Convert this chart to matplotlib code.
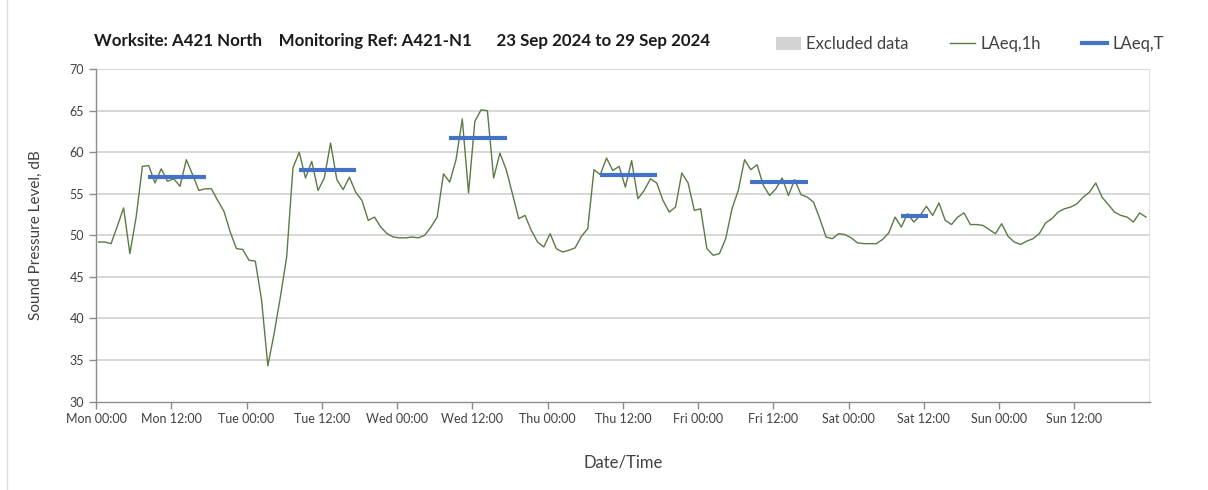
import matplotlib
matplotlib.use("Agg")
import matplotlib.pyplot as plt
from matplotlib.lines import Line2D
from matplotlib.patches import Patch
import numpy as np

# ---- data ----
laeq_1h = [
    49.2, 49.2, 49.0, 51.1, 53.3, 47.8, 52.2, 58.3, 58.4, 56.3, 58.0, 56.5,
    56.8, 55.9, 59.1, 57.3, 55.4, 55.6, 55.6, 54.2, 52.9, 50.4, 48.4, 48.3,
    47.0, 46.9, 42.2, 34.3, 38.2, 42.6, 47.4, 58.1, 60.0, 56.9, 58.9, 55.4,
    56.9, 61.1, 56.7, 55.5, 57.0, 55.2, 54.2, 51.8, 52.2, 51.0, 50.2, 49.8,
    49.7, 49.7, 49.8, 49.7, 50.0, 51.0, 52.2, 57.4, 56.4, 59.1, 64.0, 55.1,
    63.7, 65.1, 65.0, 56.9, 59.9, 57.9, 55.0, 52.0, 52.4, 50.6, 49.2, 48.6,
    50.2, 48.4, 48.0, 48.2, 48.5, 49.9, 50.8, 57.9, 57.3, 59.3, 57.8, 58.3,
    55.8, 59.0, 54.4, 55.4, 56.8, 56.3, 54.2, 52.8, 53.4, 57.5, 56.3, 53.0,
    53.2, 48.4, 47.6, 47.8, 49.6, 53.2, 55.4, 59.1, 57.9, 58.5, 56.0, 54.8,
    55.6, 56.9, 54.8, 56.7, 54.9, 54.6, 54.0, 52.0, 49.8, 49.6, 50.2, 50.1,
    49.7, 49.1, 49.0, 49.0, 49.0, 49.5, 50.3, 52.2, 51.0, 52.6, 51.6, 52.4,
    53.5, 52.4, 53.9, 51.8, 51.3, 52.2, 52.7, 51.3, 51.3, 51.2, 50.7, 50.2,
    51.4, 49.9, 49.2, 48.9, 49.3, 49.6, 50.2, 51.5, 52.0, 52.8, 53.2, 53.4,
    53.8, 54.6, 55.2, 56.3, 54.6, 53.7, 52.8, 52.4, 52.2, 51.6, 52.7, 52.2,
]
hours = np.arange(len(laeq_1h)) + 0.4          # hourly values, plotted within each hour

period_day = [0, 1, 2, 3, 4, 5]                # Mon..Sat
period_start = [8.3, 8.3, 8.3, 8.3, 8.3, 8.3]  # hour of day
period_end = [17.5, 17.5, 17.5, 17.5, 17.5, 12.6]
laeq_t = [57.05, 57.9, 61.74, 57.3, 56.37, 52.36]

day_names = ["Mon", "Tue", "Wed", "Thu", "Fri", "Sat", "Sun"]
tick_labels = [f"{d} {t}" for d in day_names for t in ("00:00", "12:00")]

title = "Worksite: A421 North    Monitoring Ref: A421-N1      23 Sep 2024 to 29 Sep 2024"

# ---- style ----
plt.rcParams["font.family"] = ["Lato", "DejaVu Sans"]
W, H = 1208, 490
fig = plt.figure(figsize=(W / 100, H / 100), dpi=100)
ax = fig.add_axes([96 / W, 1 - 401.6 / H, (1149.7 - 96) / W, (401.6 - 69.1) / H])

grid_c = "#d4d4d4"
green = "#5b7a45"
blue = "#4472c4"

ax.set_xlim(0, 168)
ax.set_ylim(30, 70)
ax.set_yticks(np.arange(30, 71, 5))
ax.set_xticks(np.arange(0, 168, 12))
ax.set_xticklabels(tick_labels)
ax.set_xticks(np.arange(0, 169, 24), minor=True)

for y in np.arange(35, 71, 5):
    ax.axhline(y, color=grid_c, lw=1.3, zorder=0)
ax.grid(False)
ax.xaxis.grid(True, which="minor", color="#dcdcdc", lw=1.3, zorder=0)
ax.tick_params(axis="x", which="minor", length=0)

for s in ("top", "right"):
    ax.spines[s].set_visible(False)
for s in ("left", "bottom"):
    ax.spines[s].set_color("#8c8c8c")
    ax.spines[s].set_linewidth(1.0)
ax.tick_params(axis="both", which="major", colors="#8c8c8c", length=5, width=1.0,
               labelcolor="#404040", labelsize=9)

ax.plot(hours, laeq_1h, color=green, lw=1.0, zorder=3)
for d, s, e, v in zip(period_day, period_start, period_end, laeq_t):
    ax.hlines(v, d * 24 + s, d * 24 + e, color=blue, lw=3.0, zorder=4)

ax.set_ylabel("Sound Pressure Level, dB", fontsize=11, color="#404040", labelpad=19)
ax.set_xlabel("Date/Time", fontsize=12, color="#404040", labelpad=21)

fig.text(94 / W, 1 - 41 / H, title, fontsize=12.2, fontweight="bold", color="#1a1a1a",
         ha="left", va="center")

handles = [Patch(facecolor="#d3d3d3", edgecolor="none"),
           Line2D([], [], color=green, lw=1.0),
           Line2D([], [], color=blue, lw=3.0)]
fig.legend(handles, ["Excluded data", "LAeq,1h", "LAeq,T"], ncol=3, frameon=False,
           loc="center left", bbox_to_anchor=(761 / W, 1 - 44 / H), fontsize=12,
           handlelength=1.5, handleheight=0.8, handletextpad=0.3, columnspacing=2.5,
           labelcolor="#404040")

fig.add_artist(Line2D([7 / W, 7 / W], [0, 1], transform=fig.transFigure,
                      color="#dddddd", lw=1.0))

fig.savefig("out.png", dpi=100, facecolor="white")
